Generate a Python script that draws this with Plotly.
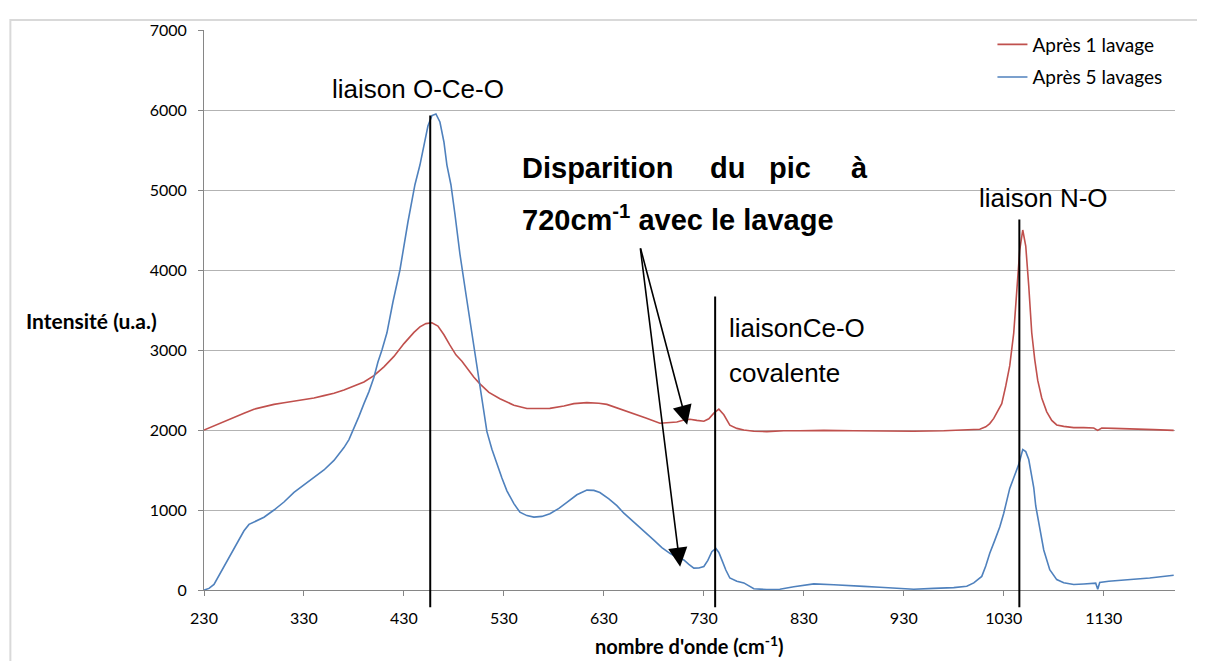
import plotly.graph_objects as go

# Raman spectra
wavenumber_1 = [230, 240, 250, 260, 270, 280, 290, 300, 310, 320, 330, 340, 350, 360, 370, 380, 390,
                400, 410, 420, 430, 440, 446, 452, 458, 464, 470, 476, 482, 488, 494, 500, 506, 515,
                526, 540, 553, 565, 576, 590, 600, 613, 625, 633, 645, 660, 672, 686, 696, 703, 710,
                716, 723, 730, 735, 740, 745, 750, 756, 763, 770, 780, 793, 810, 826, 850, 880, 910,
                940, 970, 990, 1000, 1006, 1012, 1016, 1020, 1024, 1028, 1032, 1036, 1040, 1043, 1046,
                1049, 1052, 1055, 1058, 1061, 1064, 1068, 1073, 1078, 1083, 1090, 1100, 1110, 1120,
                1124, 1128, 1140, 1160, 1180, 1200]
intensity_1 = [2000, 2050, 2110, 2160, 2210, 2260, 2290, 2320, 2340, 2360, 2380, 2400, 2430, 2460, 2500,
               2550, 2600, 2680, 2790, 2920, 3080, 3220, 3290, 3330, 3340, 3300, 3190, 3060, 2940, 2860,
               2760, 2660, 2577, 2470, 2390, 2310, 2268, 2265, 2270, 2300, 2330, 2342, 2335, 2320, 2270,
               2207, 2150, 2085, 2090, 2100, 2125, 2135, 2120, 2110, 2140, 2210, 2260, 2190, 2060, 2020,
               2001, 1985, 1980, 1990, 1990, 1995, 1990, 1985, 1985, 1990, 2000, 2010, 2010, 2040, 2080,
               2145, 2230, 2330, 2550, 2804, 3215, 3700, 4250, 4500, 4300, 3800, 3215, 2880, 2620, 2400,
               2227, 2120, 2063, 2045, 2030, 2030, 2025, 1995, 2025, 2020, 2015, 2005, 1995]

wavenumber_5 = [230, 235, 240, 245, 250, 255, 260, 265, 270, 275, 280, 290, 300, 310, 320, 330, 340, 350,
                360, 370, 375, 380, 385, 390, 395, 400, 404, 408, 413, 419, 426, 434, 441, 446, 450, 454,
                458, 462, 466, 470, 473, 477, 481, 486, 492, 498, 506, 513, 518, 523, 528, 533, 540, 546,
                553, 560, 568, 576, 585, 593, 603, 613, 620, 626, 635, 643, 650, 660, 670, 680, 688, 696,
                703, 710, 715, 720, 725, 730, 734, 738, 742, 745, 748, 752, 756, 763, 770, 780, 793, 806,
                820, 840, 860, 873, 890, 906, 925, 940, 960, 980, 993, 1000, 1004, 1008, 1012, 1016, 1021,
                1026, 1030, 1033, 1036, 1040, 1045, 1049, 1052, 1055, 1058, 1060, 1062, 1065, 1070, 1076,
                1083, 1090, 1100, 1110, 1120, 1122, 1124, 1126, 1135, 1143, 1160, 1176, 1190, 1200]
intensity_5 = [0, 20, 70, 180, 300, 400, 510, 630, 740, 820, 850, 910, 1000, 1100, 1220, 1310, 1400, 1500,
               1620, 1780, 1880, 2020, 2170, 2330, 2480, 2660, 2850, 3000, 3215, 3600, 4000, 4600, 5066,
               5312, 5580, 5800, 5930, 5950, 5850, 5600, 5312, 5066, 4700, 4200, 3700, 3215, 2598, 1980,
               1760, 1570, 1400, 1240, 1080, 972, 930, 911, 920, 953, 1020, 1096, 1190, 1249, 1245, 1219,
               1140, 1055, 960, 849, 730, 623, 530, 459, 410, 376, 320, 274, 275, 294, 370, 479, 520, 470,
               376, 250, 150, 110, 89, 15, 5, 10, 40, 76, 65, 60, 45, 35, 20, 10, 20, 30, 47, 89, 130, 170,
               300, 459, 620, 787, 960, 1117, 1270, 1404, 1570, 1755, 1730, 1631, 1420, 1281, 1050, 829,
               500, 253, 130, 90, 68, 75, 89, 85, 10, 95, 110, 121, 135, 150, 170, 185]

# band markers: position, top, bottom
band_pos = [456.3, 741.3, 1045.6]
band_top = [5930, 3670, 4630]
band_bottom = -216

x_min, x_max = 230, 1201.3
y_min, y_max = 0, 7000

fig = go.Figure()
fig.add_trace(go.Scatter(x=wavenumber_1, y=intensity_1, mode='lines', name='Après 1 lavage',
                         line=dict(color='#C0504D', width=1.6), legendgroup='a'))
fig.add_trace(go.Scatter(x=wavenumber_5, y=intensity_5, mode='lines', name='Après 5 lavages',
                         line=dict(color='#4F81BD', width=1.6), legendgroup='b'))


def to_paper_x(v):
    return (v - x_min) / (x_max - x_min)


def to_paper_y(v):
    return (v - y_min) / (y_max - y_min)


for pos, top in zip(band_pos, band_top):
    fig.add_shape(type='line', xref='paper', yref='paper',
                  x0=to_paper_x(pos), x1=to_paper_x(pos),
                  y0=to_paper_y(band_bottom), y1=to_paper_y(top),
                  line=dict(color='black', width=2))

# outer chart frame
fig.add_shape(type='rect', xref='paper', yref='paper', x0=-0.1994, x1=1.0288, y0=-0.16, y1=1.018,
              line=dict(color='#d9d9d9', width=2), layer='below')

arial = 'Liberation Sans, Arial, sans-serif'
txt = dict(family=arial, size=26, color='black')
bold = dict(family=arial, size=29, color='black', weight='bold')

notes = [
    ('liaison O-Ce-O', 444.3, 6262, 'center', txt),
    ('liaisonCe-O', 753, 3280, 'left', txt),
    ('covalente', 753, 2710, 'left', txt),
    ('liaison N-O', 1003.3, 4900, 'left', txt),
    ('Disparition', 546.3, 5276, 'left', bold),
    ('du', 734.3, 5276, 'left', bold),
    ('pic', 793.3, 5276, 'left', bold),
    ('à', 896.3, 5276, 'right', bold),
    ('720cm<sup>-1</sup> avec le lavage', 546.3, 4646, 'left', bold),
]
for text, x, y, anchor, font in notes:
    fig.add_annotation(x=x, y=y, text=text, showarrow=False, xanchor=anchor, yanchor='middle',
                       font=font)

# arrows from the caption to the vanished 720 cm-1 peak
arrow_start = (666.3, 4289)
arrow_tips = [(713.3, 2067), (706.3, 290)]
for tx, ty in arrow_tips:
    fig.add_annotation(x=tx, y=ty, ax=arrow_start[0], ay=arrow_start[1], axref='x', ayref='y',
                       text='', showarrow=True, arrowhead=2, arrowsize=2.4, arrowwidth=1.6,
                       arrowcolor='black')

calibri = 'Lato, Carlito, Calibri, sans-serif'
fig.add_annotation(x=-0.116, y=0.482, xref='paper', yref='paper', text='Intensité (u.a.)',
                   showarrow=False, xanchor='center', yanchor='middle',
                   font=dict(family=calibri, size=21, color='black', weight='bold'))
fig.add_annotation(x=0.5, y=-0.098, xref='paper', yref='paper', text="nombre d'onde (cm<sup>-1</sup>)",
                   showarrow=False, xanchor='center', yanchor='middle',
                   font=dict(family=calibri, size=20, color='black', weight='bold'))

fig.update_xaxes(range=[x_min, x_max], tick0=230, dtick=100, showgrid=False, zeroline=False,
                 showline=True, linecolor='#868686', linewidth=1, ticks='outside', ticklen=5,
                 tickcolor='#868686', tickfont=dict(family=calibri, size=16, color='black'),
                 ticklabelstandoff=9)
fig.update_yaxes(range=[y_min, y_max], dtick=1000, showgrid=True, gridcolor='#b3b3b3', gridwidth=1,
                 zeroline=False, showline=True, linecolor='#868686', linewidth=1, ticks='outside',
                 ticklen=5, tickcolor='#868686', tickfont=dict(family=calibri, size=16, color='black'),
                 ticklabelstandoff=8)

fig.update_layout(width=1205, height=661, margin=dict(l=196, r=38, t=15, b=79),
                  paper_bgcolor='white', plot_bgcolor='white', showlegend=True,
                  legend=dict(x=0.812, y=1.008, xanchor='left', yanchor='top', traceorder='grouped',
                              tracegroupgap=5, bgcolor='rgba(0,0,0,0)',
                              font=dict(family=calibri, size=19, color='black')))

fig.write_html('out.html')
